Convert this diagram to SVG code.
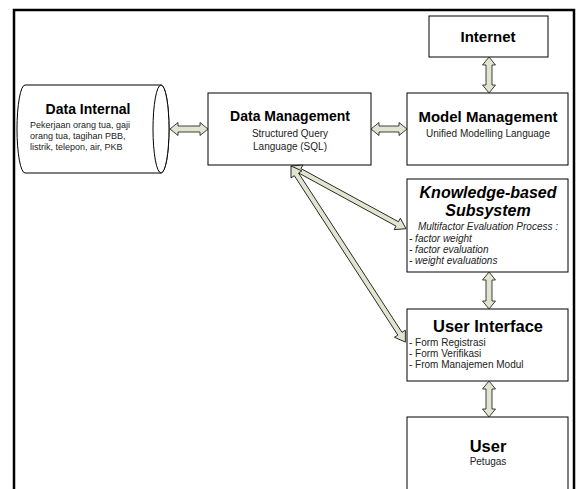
<svg xmlns="http://www.w3.org/2000/svg" width="578" height="489" viewBox="0 0 578 489">
<style>
.box{fill:#fff;stroke:#000;stroke-width:1}
.frame{fill:none;stroke:#000;stroke-width:2.5}
.arr{fill:#e1e4cf;stroke:#111;stroke-width:0.8;stroke-linejoin:miter}
.t{font-family:"Liberation Sans",Arial,sans-serif;font-weight:bold;fill:#000;text-anchor:middle}
.s{font-family:"Liberation Sans",Arial,sans-serif;font-size:10px;fill:#222}
.c{text-anchor:middle}
.i{font-style:italic}
</style>
<rect width="578" height="489" fill="#fff"/>
<path class="frame" d="M14,489 V10 H574 V489"/>
<g id="data-internal">
<path class="box" d="M25,85 H161 A8,44 0 0 1 161,173 H25 A8,44 0 0 1 25,85 Z"/>
<ellipse class="box" cx="161" cy="129" rx="8" ry="44"/>
<text class="t" x="88" y="114" font-size="14">Data Internal</text>
<text class="s" x="30" y="128" font-size="9" style="font-size:9px">Pekerjaan orang tua, gaji</text>
<text class="s" x="30" y="139" style="font-size:9px">orang tua, tagihan PBB,</text>
<text class="s" x="30" y="150" style="font-size:9px">listrik, telepon, air, PKB</text>
</g>
<g id="data-management">
<rect class="box" x="208" y="93" width="163" height="72"/>
<text class="t" x="290" y="121" font-size="14">Data Management</text>
<text class="s c" x="290" y="137">Structured Query</text>
<text class="s c" x="290" y="150">Language (SQL)</text>
</g>
<g id="internet">
<rect class="box" x="429" y="16" width="119" height="41"/>
<text class="t" x="488" y="42" font-size="15">Internet</text>
</g>
<g id="model-management">
<rect class="box" x="407" y="93" width="161" height="72"/>
<text class="t" x="488" y="122" font-size="15">Model Management</text>
<text class="s c" x="488" y="137">Unified Modelling Language</text>
</g>
<g id="knowledge-subsystem">
<rect class="box" x="407" y="179" width="161" height="93"/>
<text class="t i" x="488" y="198" font-size="16">Knowledge-based</text>
<text class="t i" x="488" y="216" font-size="16">Subsystem</text>
<text class="s c i" x="488" y="230">Multifactor Evaluation Process :</text>
<text class="s i" x="409" y="242">- factor weight</text>
<text class="s i" x="409" y="253">- factor evaluation</text>
<text class="s i" x="409" y="264">- weight evaluations</text>
</g>
<g id="user-interface">
<rect class="box" x="407" y="309" width="161" height="72"/>
<text class="t" x="488" y="332" font-size="16.5">User Interface</text>
<text class="s" x="409" y="346">- Form Registrasi</text>
<text class="s" x="409" y="357">- Form Verifikasi</text>
<text class="s" x="409" y="368">- From Manajemen Modul</text>
</g>
<g id="user">
<rect class="box" x="407" y="417" width="161" height="80"/>
<text class="t" x="488" y="452" font-size="16.5">User</text>
<text class="s c" x="488" y="465">Petugas</text>
</g>
<g id="connectors">
<polygon class="arr" transform="translate(170,129)" points="0,0 8,-6.5 8,-3 30,-3 30,-6.5 38,0 30,6.5 30,3 8,3 8,6.5"/>
<polygon class="arr" transform="translate(371,129)" points="0,0 8,-6.5 8,-3 28,-3 28,-6.5 36,0 28,6.5 28,3 8,3 8,6.5"/>
<polygon class="arr" transform="translate(489,57) rotate(90)" points="0,0 8,-6.5 8,-3 28,-3 28,-6.5 36,0 28,6.5 28,3 8,3 8,6.5"/>
<polygon class="arr" transform="translate(291,166) rotate(28.6)" points="0,0 10,-6.5 10,-2.5 121,-2.5 121,-6.5 131,0 121,6.5 121,2.5 10,2.5 10,6.5"/>
<polygon class="arr" transform="translate(291,166) rotate(57.0)" points="0,0 10,-6.5 10,-2.5 200,-2.5 200,-6.5 210,0 200,6.5 200,2.5 10,2.5 10,6.5"/>
<polygon class="arr" transform="translate(489,272) rotate(90)" points="0,0 8,-6.5 8,-3 29,-3 29,-6.5 37,0 29,6.5 29,3 8,3 8,6.5"/>
<polygon class="arr" transform="translate(489,381) rotate(90)" points="0,0 8,-6.5 8,-3 28,-3 28,-6.5 36,0 28,6.5 28,3 8,3 8,6.5"/>
</g>
</svg>
